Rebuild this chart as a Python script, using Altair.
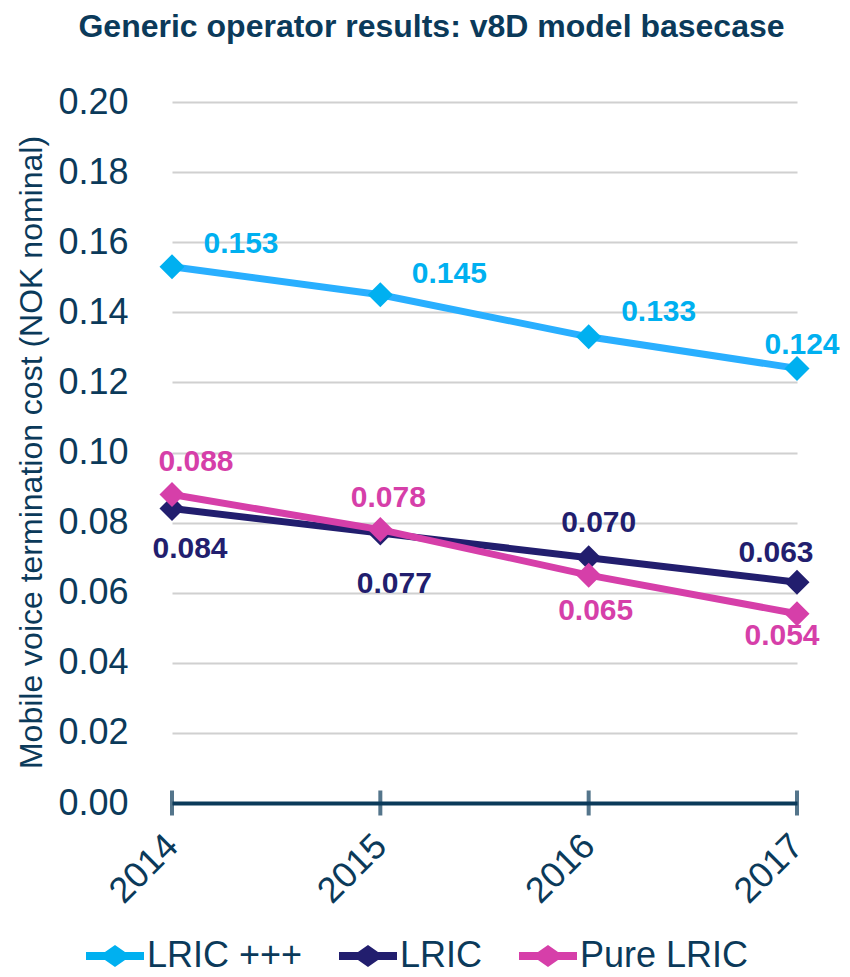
import altair as alt
import pandas as pd

years = ["2014", "2015", "2016", "2017"]
series_names = ["LRIC +++", "LRIC", "Pure LRIC"]
lric_ppp = [0.153, 0.145, 0.133, 0.124]
lric = [0.084, 0.077, 0.070, 0.063]
pure_lric = [0.088, 0.078, 0.065, 0.054]
y_ticks = [0.00, 0.02, 0.04, 0.06, 0.08, 0.10, 0.12, 0.14, 0.16, 0.18, 0.20]

line_colors = ["#29AFFF", "#221E6E", "#D63FA9"]
point_colors = ["#00B0F0", "#221E6E", "#D63FA9"]
text_color = "#0B3A5A"
FONT = "Liberation Sans"

rows = []
for name, vals in zip(series_names, [lric_ppp, lric, pure_lric]):
    for yr, v in zip(years, vals):
        rows.append({"year": yr, "series": name, "value": v})
df = pd.DataFrame(rows)

# label offsets (style) per series / year: (dx, dy)
label_offsets = {
    "LRIC +++": [(69, -23), (69, -21), (70, -25), (5, -23)],
    "LRIC": [(18, 40), (14, 51), (10, -35), (-21, -29)],
    "Pure LRIC": [(24, -33), (8, -32), (7, 36), (-15, 22)],
}

legend_path = ("M-1,-0.14L-0.345,-0.14L0,-0.38L0.345,-0.14L1,-0.14L1,0.14"
               "L0.345,0.14L0,0.38L-0.345,0.14L-1,0.14Z")

x_enc = alt.X("year:O", scale=alt.Scale(domain=years, type="point", padding=0),
              axis=alt.Axis(title=None, labelAngle=-45, labelAlign="right",
                            labelBaseline="middle", labelFontSize=36,
                            labelColor=text_color, labelFont=FONT,
                            domainColor=text_color, domainWidth=4,
                            ticks=False, tickSize=0, labelPadding=37,
                            labelOffset=0, grid=False))
y_scale = alt.Scale(domain=[0, 0.2], nice=False, zero=True)
y_enc = alt.Y("value:Q", scale=y_scale,
              axis=alt.Axis(title="Mobile voice termination cost (NOK nominal)",
                            values=y_ticks, format=".2f", labelFontSize=36,
                            labelColor=text_color, labelFont=FONT,
                            labelPadding=44, ticks=False, domain=False,
                            grid=True, gridColor="#D0D0D0", gridWidth=2,
                            titleFontSize=32, titleFont=FONT,
                            titleColor=text_color, titleFontWeight="normal",
                            titleAngle=270, titleAlign="center",
                            titleBaseline="middle", titleX=-141, titleY=350))

color_scale_pt = alt.Scale(domain=series_names, range=point_colors)
legend = alt.Legend(
    title=None, orient="none", direction="horizontal",
    legendX=-86, legendY=825, symbolType=legend_path,
    symbolSize=3364, symbolStrokeWidth=0, symbolOpacity=1,
    labelFontSize=36, labelFont=FONT, labelColor=text_color,
    labelOffset=3, columnPadding=36, padding=0, labelLimit=400,
)

base = alt.Chart(df)
layers = []

# ticks crossing the x axis
tick_layer = alt.Chart(pd.DataFrame({"year": years})).mark_tick(
    orient="vertical", size=25, thickness=4, color=text_color
).encode(x=x_enc, y=alt.datum(0, type="quantitative", scale=y_scale))

for i, name in enumerate(series_names):
    sub = base.transform_filter(alt.datum.series == name)
    line = sub.mark_line(strokeWidth=7, color=line_colors[i]).encode(
        x=x_enc, y=y_enc,
    )
    pts = sub.mark_point(shape="diamond", filled=True, size=625, opacity=1).encode(
        x=x_enc, y=y_enc,
        color=alt.Color("series:N", scale=color_scale_pt, legend=legend),
    )
    layers += [line, pts]

for i, name in enumerate(series_names):
    for j, yr in enumerate(years):
        dx, dy = label_offsets[name][j]
        t = base.transform_filter(
            (alt.datum.series == name) & (alt.datum.year == yr)
        ).mark_text(fontSize=30, fontWeight="bold", font=FONT,
                    color=point_colors[i], dx=dx, dy=dy,
                    align="center", baseline="middle").encode(
            x=x_enc, y=y_enc, text=alt.Text("value:Q", format=".3f"))
        layers.append(t)

chart = alt.layer(*layers, tick_layer).properties(
    width=625, height=701,
    padding={"left": 164, "top": 94, "right": 45, "bottom": 174},
    autosize=alt.AutoSizeParams(type="none"),
    title=alt.TitleParams(
        "Generic operator results: v8D model basecase", fontSize=32,
        fontWeight="bold", font=FONT, color=text_color, anchor="middle",
        dx=-53, offset=40),
).configure_view(stroke=None)

chart.save("out.html", embed_options={"renderer": "svg", "actions": False})
